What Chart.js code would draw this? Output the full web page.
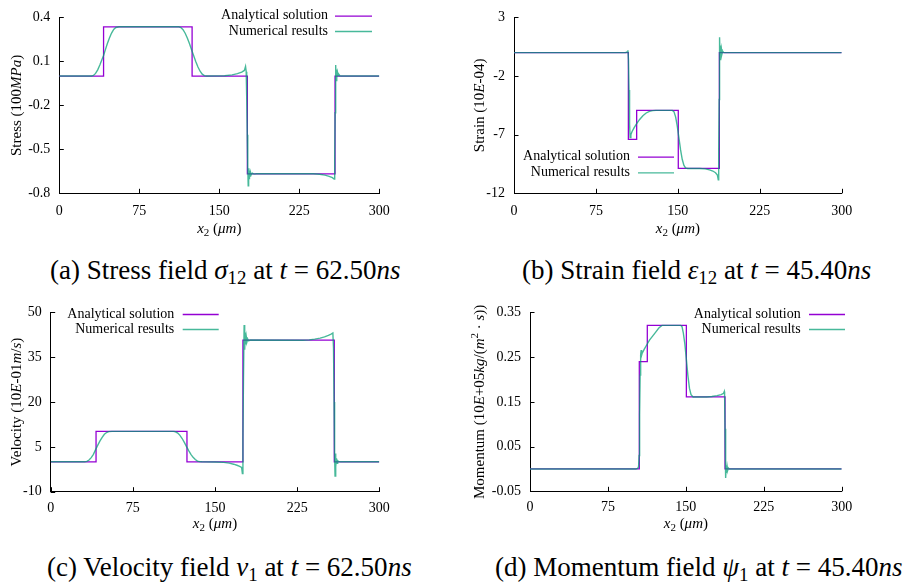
<!DOCTYPE html>
<html>
<head>
<meta charset="utf-8">
<script src="https://cdn.jsdelivr.net/npm/chart.js@4.4.0/dist/chart.umd.min.js"></script>
<style>
  body { margin: 0; width: 905px; height: 587px; background: #fff; position: relative; overflow: hidden; font-family: "Liberation Serif", serif; }
  canvas { position: absolute; }
  .cap { position: absolute; font-size: 27px; line-height: 30px; white-space: nowrap; color: #000; }
  .cap sub { font-size: 0.7em; vertical-align: -0.25em; line-height: 0; }
</style>
</head>
<body>
<canvas id="stressChart" width="452" height="245" style="left:0;top:0"></canvas>
<canvas id="strainChart" width="450" height="245" style="left:455px;top:0"></canvas>
<canvas id="velocityChart" width="452" height="245" style="left:0;top:295px"></canvas>
<canvas id="momentumChart" width="450" height="245" style="left:455px;top:295px"></canvas>

<div class="cap" style="left:50px;top:255px">(a) Stress field <i>σ</i><sub>12</sub> at <i>t</i> = 62.50<i>ns</i></div>
<div class="cap" style="left:522px;top:255px">(b) Strain field <i>ε</i><sub>12</sub> at <i>t</i> = 45.40<i>ns</i></div>
<div class="cap" style="left:47px;top:552px">(c) Velocity field <i>v</i><sub>1</sub> at <i>t</i> = 62.50<i>ns</i></div>
<div class="cap" style="left:495px;top:552px">(d) Momentum field <i>ψ</i><sub>1</sub> at <i>t</i> = 45.40<i>ns</i></div>

<script>
// ---- data ----
const xTicks = [0, 75, 150, 225, 300];
const stressTicks = [-0.8, -0.5, -0.2, 0.1, 0.4];
const strainTicks = [-12, -7, -2, 3];
const velocityTicks = [-10, 5, 20, 35, 50];
const momentumTicks = [-0.05, 0.05, 0.15, 0.25, 0.35];

const seriesLabels = ['Analytical solution', 'Numerical results'];
// axis titles as [text, kind] pieces: 'r' roman, 'i' italic, 'sub' / 'sup'
const xTitle = [['x', 'i'], ['2', 'sub'], [' (', 'r'], ['μm', 'i'], [')', 'r']];
const stressTitle = [['Stress (100', 'r'], ['MPa', 'i'], [')', 'r']];
const strainTitle = [['Strain (10', 'r'], ['E', 'i'], ['-04)', 'r']];
const velocityTitle = [['Velocity (10', 'r'], ['E', 'i'], ['-01', 'r'], ['m', 'i'], ['/', 'r'], ['s', 'i'], [')', 'r']];
const momentumTitle = [['Momentum (10', 'r'], ['E', 'i'], ['+05', 'r'], ['kg', 'i'], ['/(', 'r'], ['m', 'i'], ['2', 'sup'], [' · ', 'r'], ['s', 'i'], ['))', 'r']];

// [x2, value]
const stressAnalytical = [[0,0],[41.5,0],[41.5,0.336],[124.5,0.336],[124.5,0],[176.3,0],[176.3,-0.667],[258.5,-0.667],[258.5,0],[300,0]];
const stressNumerical = [[0,0],[30,0],[32,0.004],[34,0.018],[36,0.042],[38,0.075],[40,0.113],[41.5,0.14],[43,0.175],[45,0.22],[47,0.26],[49,0.293],[51,0.318],[53,0.331],[56,0.336],
  [112,0.336],[114,0.331],[116,0.316],[118,0.292],[120,0.26],[122,0.222],[124,0.18],[126,0.138],[128,0.098],[130,0.062],[132,0.033],[134,0.013],[136,0.003],[138,0],
  [155,0.002],[162,0.008],[167,0.016],[171,0.027],[173.5,0.038],[174.6,0.065],[175.2,0.03],[175.7,-0.15],[176.2,-0.4],[176.7,-0.62],[177.1,-0.748],[177.5,-0.63],[177.9,-0.7],
  [178.3,-0.645],[178.8,-0.683],[179.3,-0.657],[180,-0.673],[181,-0.663],[182.5,-0.669],[185,-0.667],[238,-0.667],[244,-0.67],[249,-0.676],[253,-0.684],[256,-0.693],[257.7,-0.703],
  [258.2,-0.55],[258.6,-0.25],[259.1,0.075],[259.5,-0.03],[259.9,0.045],[260.3,-0.012],[260.8,0.025],[261.3,0.004],[262,0.012],[263,0.002],[264.5,0],[300,0]];

const strainAnalytical = [[0,0],[104.7,0],[104.7,-7.4],[112.3,-7.4],[112.3,-4.93],[150.4,-4.93],[150.4,-9.88],[188,-9.88],[188,0],[300,0]];
const strainNumerical = [[0,0],[102,0],[103.5,0.05],[104.3,0.2],[104.8,-0.6],[105.3,-3.2],[105.8,-6.1],[106.3,-7.25],[107,-7.0],[108,-6.75],[110,-6.4],[112,-6.1],[115,-5.7],
  [118,-5.38],[121,-5.15],[124,-5.01],[127,-4.95],[130,-4.93],[145,-4.93],[146.5,-5.05],[148,-5.5],[149.5,-6.3],[151,-7.3],[152.5,-8.3],[154,-9.1],[155.5,-9.6],[157,-9.83],
  [159,-9.88],[170,-9.88],[175,-9.92],[179,-10.0],[182,-10.1],[184.5,-10.25],[186.2,-10.45],[187,-10.85],[187.4,-8.5],[187.8,-4],[188.2,1.3],[188.6,-0.6],[189,0.6],
  [189.4,-0.35],[189.9,0.3],[190.4,-0.12],[191,0.12],[191.8,0.02],[193,0],[300,0]];

const velocityAnalytical = [[0,0],[41.4,0],[41.4,10.2],[124.4,10.2],[124.4,0],[175.5,0],[175.5,40.7],[258.9,40.7],[258.9,0],[300,0]];
const velocityNumerical = [[0,0],[31,0],[33,0.15],[35,0.6],[37,1.4],[39,2.5],[41.4,4.4],[43,5.6],[45,7.0],[47,8.2],[49,9.2],[51,9.8],[53,10.1],[56,10.2],
  [112,10.2],[114,10.05],[116,9.6],[118,8.85],[120,7.8],[122,6.5],[124,5.1],[126,3.75],[128,2.5],[130,1.5],[132,0.75],[134,0.25],[136,0.05],[138,0],
  [150,-0.05],[158,-0.2],[163,-0.45],[167,-0.8],[170,-1.15],[172.5,-1.5],[174.3,-1.9],[175,-3.9],[175.5,8],[176,28],[176.6,45.8],[177.1,37.5],[177.6,43.3],
  [178.1,39.3],[178.6,41.8],[179.2,40.2],[179.9,41.1],[180.8,40.5],[182,40.75],[230,40.7],[236,40.8],[241,41.05],[246,41.4],[250,41.8],[253.5,42.3],[256,42.75],
  [257.6,43.1],[258.2,38],[258.7,20],[259.2,2],[259.6,-4.8],[260,2.8],[260.4,-1.6],[260.9,1.2],[261.4,-0.5],[262,0.4],[263,0.05],[264.5,0],[300,0]];

const momentumAnalytical = [[0,0],[105.2,0],[105.2,0.24],[112.9,0.24],[112.9,0.321],[150.5,0.321],[150.5,0.161],[187.7,0.161],[187.7,0],[300,0]];
const momentumNumerical = [[0,0],[102,0],[103.5,0.001],[104.5,0.005],[105,0.03],[105.5,0.12],[106,0.21],[106.5,0.255],[107,0.266],[107.4,0.254],[108,0.259],
  [110,0.268],[112,0.276],[115,0.288],[118,0.297],[121,0.306],[124,0.315],[127,0.321],[145,0.321],[146.3,0.318],[147.5,0.305],[149,0.28],[150.5,0.245],
  [152,0.208],[153.5,0.18],[155,0.166],[157,0.161],[170,0.161],[175,0.162],[180,0.164],[184,0.166],[186.3,0.169],[187,0.173],[187.3,0.165],[187.7,0.09],
  [188.1,0.01],[188.5,-0.02],[188.9,0.008],[189.3,-0.009],[189.8,0.005],[190.3,-0.003],[191,0.002],[192,0],[300,0]];

// ---- styling ----
const FONT = '"Liberation Serif", serif';
const PURPLE = '#9400d3';
const GREEN = 'rgba(0,158,115,0.72)';

function pieceFont(kind, size) {
  const s = (kind === 'sub' || kind === 'sup') ? Math.round(size * 0.7) : size;
  return (kind === 'i' ? 'italic ' : '') + s + 'px ' + FONT;
}

// draws a title made of pieces, centred on (cx, cy), optionally rotated
function drawRich(ctx, pieces, cx, cy, size, rotate) {
  ctx.save();
  ctx.translate(cx, cy);
  if (rotate) ctx.rotate(-Math.PI / 2);
  let total = 0;
  const widths = pieces.map(p => { ctx.font = pieceFont(p[1], size); const w = ctx.measureText(p[0]).width; total += w; return w; });
  let x = -total / 2;
  ctx.textBaseline = 'middle';
  ctx.textAlign = 'left';
  ctx.fillStyle = '#000';
  pieces.forEach((p, i) => {
    ctx.font = pieceFont(p[1], size);
    const dy = p[1] === 'sub' ? size * 0.25 : p[1] === 'sup' ? -size * 0.35 : 0;
    ctx.fillText(p[0], x, dy);
    x += widths[i];
  });
  ctx.restore();
}

// gnuplot-like inward ticks, axis titles and key drawn as "text ---"
const gnuplotDecor = {
  id: 'gnuplotDecor',
  afterDraw(chart, args, opts) {
    const { ctx, chartArea } = chart;
    const xs = chart.scales.x, ys = chart.scales.y;
    ctx.save();
    ctx.strokeStyle = '#000';
    ctx.lineWidth = 1;
    ctx.beginPath();
    xs.ticks.forEach(t => {
      const px = Math.round(xs.getPixelForValue(t.value)) + 0.5;
      ctx.moveTo(px, chartArea.bottom);
      ctx.lineTo(px, chartArea.bottom - 4.5);
    });
    ys.ticks.forEach(t => {
      const py = Math.round(ys.getPixelForValue(t.value)) + 0.5;
      ctx.moveTo(chartArea.left, py);
      ctx.lineTo(chartArea.left + 4.5, py);
    });
    ctx.stroke();

    drawRich(ctx, xTitle, (chartArea.left + chartArea.right) / 2, opts.xTitleY, 15, false);
    drawRich(ctx, opts.yTitle, opts.yTitleX, (chartArea.top + chartArea.bottom) / 2, 15, true);

    ctx.font = '14px ' + FONT;
    ctx.textAlign = 'right';
    ctx.textBaseline = 'middle';
    chart.data.datasets.forEach((ds, i) => {
      const y = opts.rows[i];
      ctx.fillStyle = '#000';
      ctx.fillText(ds.label, opts.textRight, y);
      ctx.strokeStyle = ds.borderColor;
      ctx.lineWidth = 1.3;
      ctx.beginPath();
      ctx.moveTo(opts.lineFrom, y + 0.5);
      ctx.lineTo(opts.lineTo, y + 0.5);
      ctx.stroke();
    });
    ctx.restore();
  }
};

const toPts = arr => arr.map(p => ({ x: p[0], y: p[1] }));

function makeChart(id, analytical, numerical, yTicks, box, key) {
  const ctx = document.getElementById(id).getContext('2d');
  return new Chart(ctx, {
    type: 'line',
    data: {
      datasets: [
        { label: seriesLabels[0], data: toPts(analytical), borderColor: PURPLE, borderWidth: 1.3, pointRadius: 0, tension: 0, order: 1 },
        { label: seriesLabels[1], data: toPts(numerical), borderColor: GREEN, borderWidth: 1.4, pointRadius: 0, tension: 0, order: 0 }
      ]
    },
    options: {
      responsive: false,
      animation: false,
      events: [],
      layout: { padding: { left: 0, top: box.top, right: box.right, bottom: 0 } },
      plugins: {
        legend: { display: false },
        tooltip: { enabled: false },
        gnuplotDecor: key
      },
      scales: {
        x: {
          type: 'linear',
          min: 0, max: 300,
          afterBuildTicks: s => { s.ticks = xTicks.map(v => ({ value: v })); },
          afterFit: s => { s.height = box.xHeight; },
          grid: { display: false, drawTicks: false },
          border: { display: true, color: '#000', width: 1 },
          ticks: { color: '#000', font: { family: FONT, size: 14 }, padding: box.xPad, maxRotation: 0, callback: v => String(v) }
        },
        y: {
          min: yTicks[0], max: yTicks[yTicks.length - 1],
          afterBuildTicks: s => { s.ticks = yTicks.map(v => ({ value: v })); },
          afterFit: s => { s.width = box.yWidth; },
          grid: { display: false, drawTicks: false },
          border: { display: true, color: '#000', width: 1 },
          ticks: { color: '#000', font: { family: FONT, size: 14 }, padding: 9, callback: v => String(v) }
        }
      }
    },
    plugins: [gnuplotDecor]
  });
}

makeChart('stressChart', stressAnalytical, stressNumerical, stressTicks,
  { top: 9, right: 72.7, xHeight: 51.7, yWidth: 59.3, xPad: 10 },
  { textRight: 328, lineFrom: 335, lineTo: 372, rows: [15.7, 31], yTitle: stressTitle, yTitleX: 16.7, xTitleY: 229 });
makeChart('strainChart', strainAnalytical, strainNumerical, strainTicks,
  { top: 9, right: 63.3, xHeight: 51.7, yWidth: 59, xPad: 10 },
  { textRight: 175, lineFrom: 183, lineTo: 219, rows: [156.7, 172.3], yTitle: strainTitle, yTitleX: 25, xTitleY: 229 });
makeChart('velocityChart', velocityAnalytical, velocityNumerical, velocityTicks,
  { top: 11, right: 72.7, xHeight: 48.3, yWidth: 50.7, xPad: 8 },
  { textRight: 174.3, lineFrom: 182.7, lineTo: 218.7, rows: [19, 34], yTitle: velocityTitle, yTitleX: 16.7, xTitleY: 229 });
makeChart('momentumChart', momentumAnalytical, momentumNumerical, momentumTicks,
  { top: 11, right: 63.3, xHeight: 48.7, yWidth: 75, xPad: 8 },
  { textRight: 345.7, lineFrom: 354, lineTo: 390, rows: [19, 34], yTitle: momentumTitle, yTitleX: 25, xTitleY: 229 });
</script>
</body>
</html>
